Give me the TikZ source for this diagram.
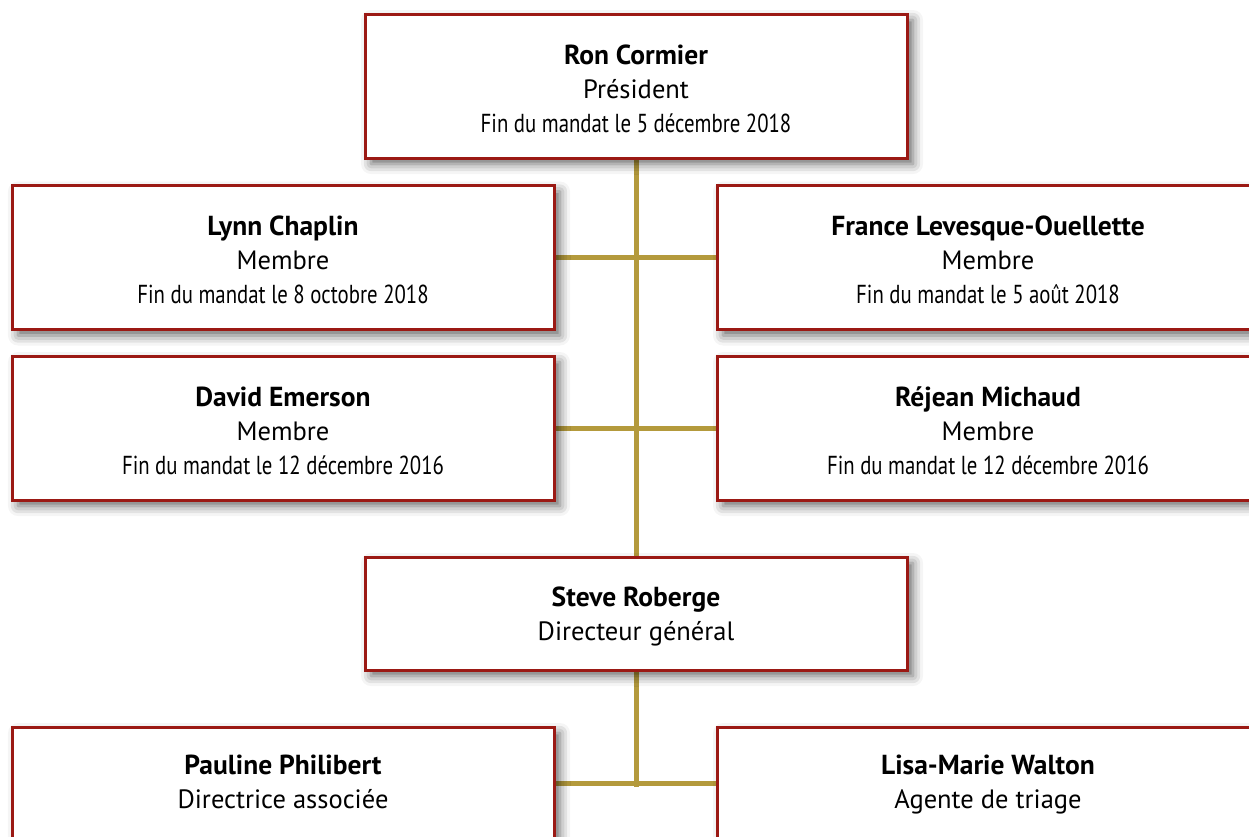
\documentclass[tikz,border=0pt]{standalone}
\usepackage{fontspec}
\setmainfont{PT Sans}
\newfontfamily\condfont[FakeStretch=0.8]{PT Sans}
\usetikzlibrary{shadows.blur,backgrounds}
\definecolor{boxred}{RGB}{155,25,20}
\definecolor{linkgold}{RGB}{180,154,60}
\tikzset{
  orgbox/.style={draw=boxred, line width=3pt, fill=white, minimum width=542pt,
    minimum height=144pt, inner sep=0pt, align=center,
    font=\fontsize{26.5}{34}\selectfont,
    blur shadow={shadow xshift=6pt, shadow yshift=-6pt, shadow blur radius=10pt, shadow opacity=60}},
  smallbox/.style={orgbox, minimum height=113pt},
  link/.style={draw=linkgold, line width=5pt},
}
\newcommand{\nm}[2][34pt]{\rule{0pt}{#1}{\fontsize{27.5}{34}\selectfont\bfseries #2}}
\newcommand{\dt}[1]{{\condfont\fontsize{26}{34}\selectfont #1}\rule[-10pt]{0pt}{10pt}}
\newcommand{\lastl}[1]{#1\rule[-10pt]{0pt}{10pt}}
\begin{document}
\begin{tikzpicture}[x=1pt,y=-1pt]
\useasboundingbox (0,0) rectangle (1249,836);
\clip (0,0) rectangle (1249,836);
\node[orgbox] (pres) at (636,86) {\nm{Ron Cormier}\\ Président\\ \dt{Fin du mandat le 5 décembre 2018}};
\node[orgbox] (m1) at (283,257.5) {\nm{Lynn Chaplin}\\ Membre\\ \dt{Fin du mandat le 8 octobre 2018}};
\node[orgbox] (m2) at (988,257.5) {\nm{France Levesque-Ouellette}\\ Membre\\ \dt{Fin du mandat le 5 août 2018}};
\node[orgbox] (m3) at (283,428) {\nm{David Emerson}\\ Membre\\ \dt{Fin du mandat le 12 décembre 2016}};
\node[orgbox] (m4) at (988,428) {\nm{Réjean Michaud}\\ Membre\\ \dt{Fin du mandat le 12 décembre 2016}};
\node[smallbox] (dg) at (636,613.5) {\nm[30pt]{Steve Roberge}\\ \lastl{Directeur général}};
\node[smallbox] (s1) at (283,783.5) {\nm[26pt]{Pauline Philibert}\\ \lastl{Directrice associée}};
\node[smallbox] (s2) at (988,783.5) {\nm[26pt]{Lisa-Marie Walton}\\ \lastl{Agente de triage}};
\coordinate (end) at (636,784);
\begin{scope}[on background layer]
\draw[link] (pres.south) -- (dg.north);
\draw[link] (m1.east) -- (m2.west);
\draw[link] (m3.east) -- (m4.west);
\draw[link, line cap=rect] (dg.south) -- (end);
\draw[link] (s1.east) -- (s2.west);
\end{scope}
\end{tikzpicture}
\end{document}
